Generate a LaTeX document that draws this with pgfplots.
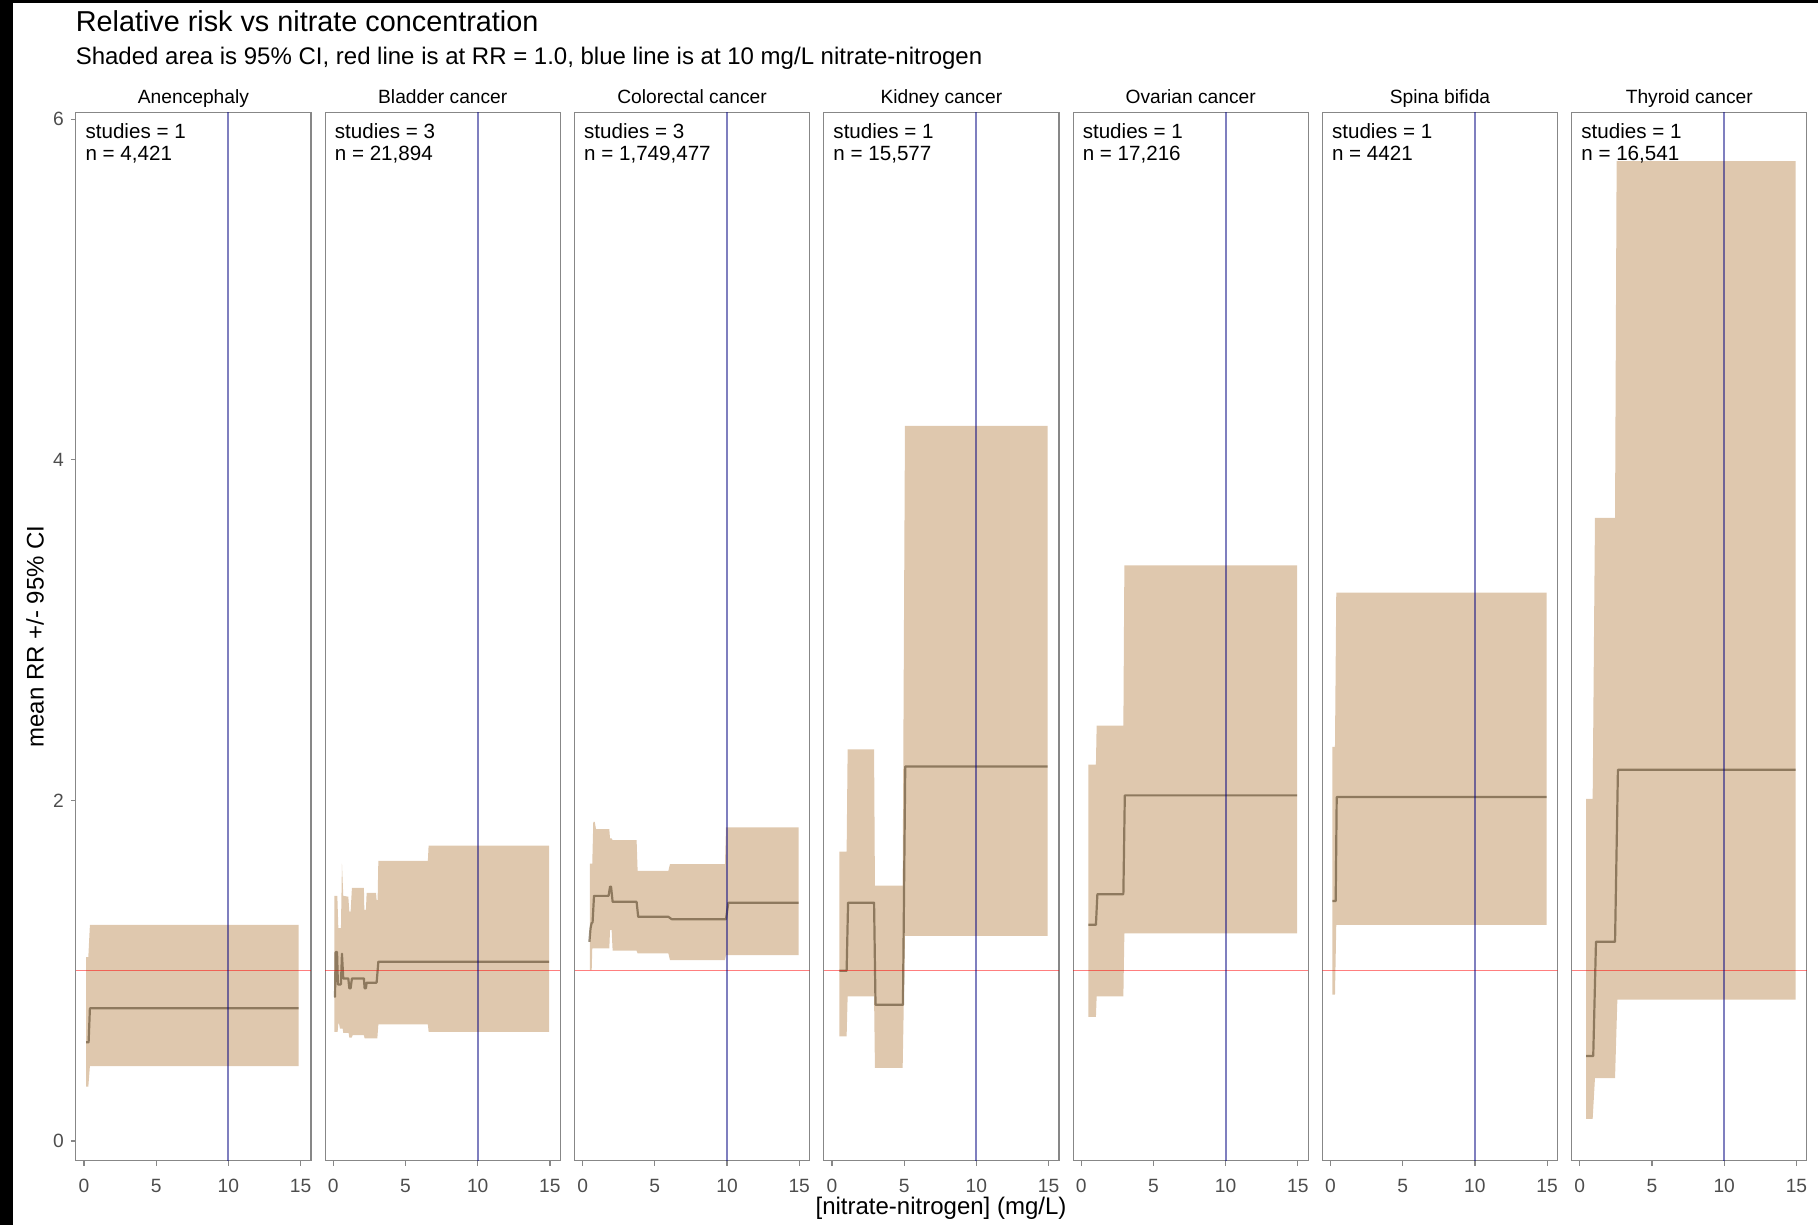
\documentclass[border=0pt]{standalone}
\usepackage{fontspec}
\setmainfont{Liberation Sans}
\usepackage{pgfplots}
\pgfplotsset{compat=1.18}
\definecolor{rib}{RGB}{223,200,174}
\definecolor{meanc}{RGB}{100,80,52}
\definecolor{bluec}{RGB}{0,0,128}
\definecolor{redc}{RGB}{255,0,0}
\definecolor{framec}{RGB}{135,135,135}
\definecolor{tickc}{RGB}{77,77,77}
\pgfplotsset{
  panelstyle/.style={
    scale only axis, width=117.55pt, height=524pt, anchor=south west,
    xmin=-0.56, xmax=15.72, ymin=-0.114, ymax=6.04,
    xtick={0,5,10,15}, ytick=\empty,
    xtick pos=left, ytick pos=left,
    axis line style={framec, line width=0.6pt},
    tick style={framec, line width=0.6pt},
    major tick length=2.5pt, tick align=outside,
    ticklabel style={font=\fontsize{9.6}{11}\selectfont, text=tickc},
    xticklabel style={yshift=-3.5pt},
    /pgf/number format/assume math mode=true,
    every axis title shift=0pt,
    title style={at={(0.5,1)}, anchor=base, yshift=4.6pt, inner sep=0pt, font=\fontsize{9.6}{11}\selectfont},
  },
  rib/.style={fill=rib, draw=none},
  meanl/.style={meanc, draw opacity=0.65, line width=1.1pt, line join=round},
  redl/.style={redc, draw opacity=0.5, line width=0.6pt},
  bluel/.style={bluec, draw opacity=0.5, line width=1pt},
}
\newcommand{\panel}[6]{%
\begin{axis}[panelstyle, at={(37.95pt+#1*124.65pt,32.25pt)}, title={#2}, #6]
\addplot[rib] coordinates {#4} --cycle;
\addplot[meanl] coordinates {#5};
\addplot[redl] coordinates {(-0.56,1) (15.72,1)};
\addplot[bluel] coordinates {(10,-0.114) (10,6.04)};
\node[anchor=north west, inner sep=0pt, align=left, font=\fontsize{10.3}{10.9}\selectfont] at (axis cs:0.08,5.975) {#3};
\end{axis}}
\begin{document}
\begin{tikzpicture}
\useasboundingbox (0,0) rectangle (909pt,612.5pt);
\fill[black] (0,0) rectangle (6.5pt,612.5pt);
\fill[black] (0,611pt) rectangle (909pt,612.5pt);
\node[anchor=base west, inner sep=0pt, font=\fontsize{14.4}{16}\selectfont] at (37.7pt,596.85pt) {Relative risk vs nitrate concentration};
\node[anchor=base west, inner sep=0pt, font=\fontsize{12}{14}\selectfont] at (37.7pt,580pt) {Shaded area is 95\% CI, red line is at RR = 1.0, blue line is at 10 mg/L nitrate-nitrogen};
\node[anchor=base, inner sep=0pt, font=\fontsize{12}{14}\selectfont] at (470.5pt,5.5pt) {[nitrate-nitrogen] (mg/L)};
\node[rotate=90, anchor=center, inner sep=0pt, font=\fontsize{12}{14}\selectfont] at (17.5pt,294.25pt) {mean RR +/- 95\% CI};
% Anencephaly
\panel{0}{Anencephaly}{studies = 1\\n = 4,421}
{(0.14,1.08) (0.30,1.08) (0.41,1.27) (14.86,1.27) (14.86,0.44) (0.41,0.44) (0.30,0.32) (0.14,0.32)}
{(0.14,0.58) (0.32,0.58) (0.41,0.78) (14.86,0.78)}
{ytick={0,2,4,6}}
% Bladder
\panel{1}{Bladder cancer}{studies = 3\\n = 21,894}
{(0.07,1.44) (0.28,1.44) (0.35,1.25) (0.53,1.25) (0.60,1.63) (0.69,1.44) (1.04,1.435) (1.11,1.347) (1.20,1.347) (1.29,1.487) (2.12,1.487) (2.15,1.357) (2.26,1.357) (2.31,1.458) (2.96,1.458) (3.00,1.415) (3.07,1.415) (3.12,1.646) (6.55,1.646) (6.60,1.735) (14.94,1.735)
 (14.94,0.642) (6.60,0.642) (6.55,0.685) (3.12,0.685) (3.05,0.603) (2.17,0.603) (2.12,0.622) (1.34,0.622) (1.27,0.607) (1.11,0.607) (1.06,0.636) (0.69,0.636) (0.65,0.661) (0.46,0.661) (0.40,0.69) (0.35,0.69) (0.30,0.642) (0.07,0.642)}
{(0.07,0.847) (0.12,0.847) (0.16,1.11) (0.26,1.11) (0.32,0.92) (0.53,0.92) (0.60,1.10) (0.69,0.955) (1.04,0.955) (1.11,0.897) (1.20,0.897) (1.29,0.955) (2.12,0.955) (2.17,0.897) (2.26,0.897) (2.31,0.93) (3.00,0.93) (3.12,1.053) (14.94,1.053)}
{}
% Colorectal
\panel{2}{Colorectal cancer}{studies = 3\\n = 1,749,477}
{(0.51,1.63) (0.67,1.63) (0.74,1.875) (0.84,1.875) (0.93,1.832) (1.85,1.832) (1.90,1.777) (2.01,1.777) (2.08,1.767) (3.74,1.767) (3.81,1.587) (5.94,1.587) (6.05,1.626) (9.86,1.626) (9.93,1.842) (14.96,1.842)
 (14.96,1.092) (9.93,1.092) (9.86,1.063) (6.05,1.063) (5.94,1.102) (3.81,1.102) (3.74,1.118) (2.08,1.118) (2.01,1.24) (1.90,1.24) (1.85,1.131) (0.67,1.131) (0.63,1.004) (0.51,1.004)}
{(0.47,1.17) (0.55,1.25) (0.63,1.282) (0.69,1.282) (0.79,1.44) (1.80,1.44) (1.90,1.494) (1.97,1.494) (2.08,1.405) (3.74,1.405) (3.85,1.317) (5.94,1.317) (6.17,1.303) (9.93,1.303) (10.09,1.399) (14.96,1.399)}
{}
% Kidney
\panel{3}{Kidney cancer}{studies = 1\\n = 15,577}
{(0.51,1.70) (1.02,1.70) (1.09,2.30) (2.92,2.30) (2.98,1.50) (4.90,1.50) (5.06,4.20) (14.94,4.20) (14.94,1.205) (5.06,1.205) (4.90,0.43) (2.98,0.43) (2.92,0.85) (1.09,0.85) (1.02,0.615) (0.51,0.615)}
{(0.51,1.0) (1.02,1.0) (1.12,1.40) (2.92,1.40) (3.02,0.80) (4.92,0.80) (5.08,2.20) (14.94,2.20)}
{}
% Ovarian
\panel{4}{Ovarian cancer}{studies = 1\\n = 17,216}
{(0.49,2.21) (1.02,2.21) (1.07,2.44) (2.92,2.44) (2.99,3.38) (14.95,3.38) (14.95,1.22) (2.99,1.22) (2.92,0.85) (1.07,0.85) (1.02,0.73) (0.49,0.73)}
{(0.49,1.27) (1.02,1.27) (1.12,1.45) (2.92,1.45) (3.02,2.03) (14.95,2.03)}
{}
% Spina bifida
\panel{5}{Spina bifida}{studies = 1\\n = 4421}
{(0.13,2.315) (0.31,2.315) (0.40,3.22) (14.97,3.22) (14.97,1.27) (0.40,1.27) (0.31,0.86) (0.13,0.86)}
{(0.13,1.41) (0.36,1.41) (0.43,2.02) (14.97,2.02)}
{}
% Thyroid
\panel{6}{Thyroid cancer}{studies = 1\\n = 16,541}
{(0.43,2.01) (0.89,2.01) (1.05,3.66) (2.44,3.66) (2.55,5.755) (14.95,5.755) (14.95,0.83) (2.60,0.83) (2.44,0.37) (1.05,0.37) (0.89,0.13) (0.43,0.13)}
{(0.43,0.50) (0.93,0.50) (1.12,1.17) (2.44,1.17) (2.64,2.18) (14.95,2.18)}
{}
\end{tikzpicture}
\end{document}
